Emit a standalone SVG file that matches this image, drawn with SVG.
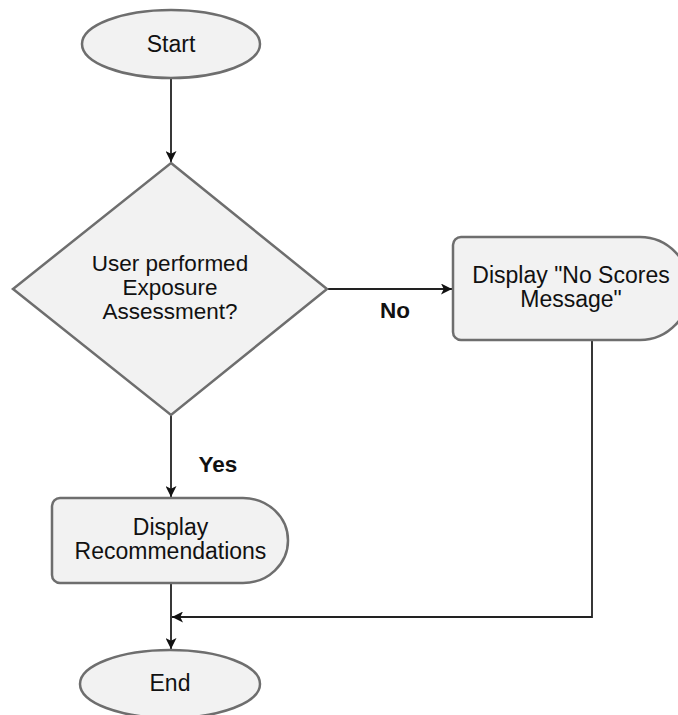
<svg xmlns="http://www.w3.org/2000/svg" width="678" height="715" viewBox="0 0 678 715">
<style>
.shape{fill:#f2f2f2;stroke:#6e6e6e;stroke-width:2.5}
.t{font-family:"Liberation Sans",Arial,sans-serif;font-size:23px;fill:#111;text-anchor:middle}
.d{font-size:22.5px}
.lbl{font-family:"Liberation Sans",Arial,sans-serif;font-size:22.5px;font-weight:bold;fill:#111;text-anchor:middle}
.c{fill:none;stroke:#222;stroke-width:1.8}
</style>
<defs>
<marker id="ah" viewBox="0 0 10 10" refX="10" refY="5" markerWidth="11" markerHeight="11" markerUnits="userSpaceOnUse" orient="auto">
<path d="M0,0 L10,5 L0,10 L2.5,5 z" fill="#111"/>
</marker>
</defs>
<rect width="678" height="715" fill="#fff"/>
<g id="connectors">
<path class="c" d="M171,78 V162" marker-end="url(#ah)"/>
<path class="c" d="M327,289 H452" marker-end="url(#ah)"/>
<path class="c" d="M171,415 V497" marker-end="url(#ah)"/>
<path class="c" d="M171,583 V649" marker-end="url(#ah)"/>
<path class="c" d="M592,340 V617 H172" marker-end="url(#ah)"/>
<text class="lbl" x="395" y="318">No</text>
<text class="lbl" x="218" y="472">Yes</text>
</g>
<g id="start">
<ellipse class="shape" cx="171" cy="44" rx="89" ry="34"/>
<text class="t" x="171" y="52">Start</text>
</g>
<g id="decision">
<polygon class="shape" points="171,163 327,289 171,415 13,289"/>
<text class="t d" x="170" y="271">User performed</text>
<text class="t d" x="170" y="295">Exposure</text>
<text class="t d" x="170" y="319">Assessment?</text>
</g>
<g id="noscores">
<path class="shape" d="M461,237 H640 A50,51.5 0 0 1 640,340 H461 A8,8 0 0 1 453,332 V245 A8,8 0 0 1 461,237 Z"/>
<text class="t" x="571" y="283">Display "No Scores</text>
<text class="t" x="571" y="306.5">Message"</text>
</g>
<g id="recommendations">
<path class="shape" d="M60,498 H243 A45,42.5 0 0 1 243,583 H60 A8,8 0 0 1 52,575 V506 A8,8 0 0 1 60,498 Z"/>
<text class="t" x="170.5" y="535">Display</text>
<text class="t" x="170.5" y="559">Recommendations</text>
</g>
<g id="end">
<ellipse class="shape" cx="170" cy="684" rx="90" ry="34"/>
<text class="t" x="170" y="691">End</text>
</g>
</svg>
